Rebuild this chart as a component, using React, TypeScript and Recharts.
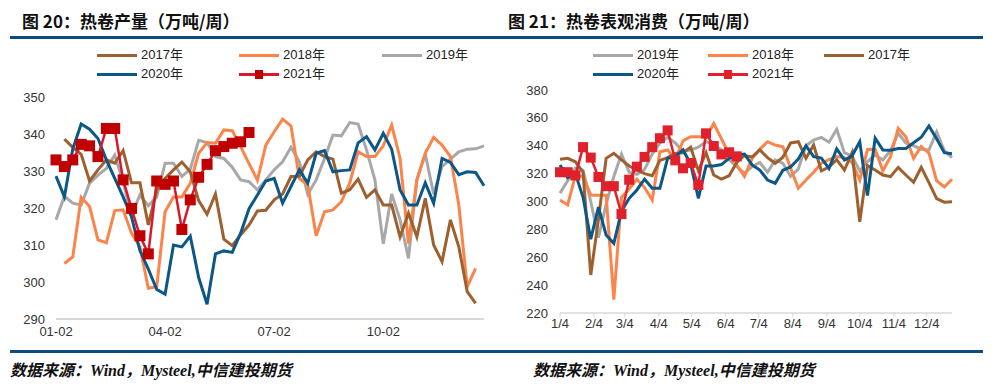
import { LineChart, Line, XAxis, YAxis } from 'recharts'

// 热卷产量 weekly, index 0 = 01-02
const prodTickWeeks = [0, 13, 26, 39]
const prodTickLabels = ['01-02', '04-02', '07-02', '10-02']
const prodTicksY = [290, 300, 310, 320, 330, 340, 350]

const prod2017 = [null, 338.6, 336.4, 334.5, 327.3, 330.3, 333, 332.1, 335.5, 326.8, 326.8, 315.4, 324.9, 328, 330.3, 332.4, 329.8, 322, 318.3, 323.8, 311.6, 309.8, 312.8, 315.4, 319.2, 319.4, 322.2, 323.8, 328.5, 328.6, 333, 335.2, 333.9, 333.2, 324, 324.9, 327.8, 322.9, 324.9, 320.8, 320.8, 312.2, 318.6, 312.2, 322.6, 310, 305.5, 316.8, 309.5, 297.4, 294.2, null]
const prod2018 = [null, 305, 306.8, 322.9, 320.4, 311.4, 310.6, 319.3, 319.5, 313.2, 309.5, 298.3, 298.7, 319, 323, 323, 326.7, 334.8, 337.7, 337.5, 341.1, 340.9, 336.6, 332, 327.5, 337, 340.6, 344, 342.2, 328, 326.2, 312.5, 319, 319.5, 321.7, 326.7, 335.2, 333.9, 333.9, 336.8, 342.4, 333.4, 310.4, 327.6, 334.8, 339.1, 337, 333.9, 320.8, 298.7, 303.7, null]
const prod2019 = [316.8, 323.2, 321.3, 320.8, 326.7, 328.9, 330.7, 334.3, 327, 318, 323.5, 320.6, 323, 332.1, 332.1, 328.5, 330.5, 338.3, 337.7, 333.9, 333.4, 331, 327.6, 327.1, 324.9, 327.6, 330.3, 332.5, 336.4, 332.5, 323.7, 327.6, 333.4, 339.7, 339.5, 343.1, 342.7, 335.7, 327.6, 310.3, 323.8, 316.8, 306.4, 327.6, 334.6, 323.8, 331.2, 333.2, 335.2, 335.9, 336, 336.8]
const prod2020 = [328.6, 323, 336, 342.7, 341.3, 338.8, 333, 328, 323, 317.6, 308.5, 303.5, 298, 296.7, 310, 309.5, 312.4, 301.2, 294, 307.6, 308.4, 308, 313.2, 319.8, 323.5, 327.3, 328, 321.3, 325.8, 330.3, 326.7, 334.8, 335.5, 329.8, 330.1, 330.3, 337.6, 339.3, 335.7, 340.2, 335.9, 324.9, 320.8, 320.8, 326.8, 321.3, 333.4, 332.3, 329, 329.8, 329.6, 326]
const prod2021 = [333, 331.2, 333, 337.2, 336.8, 333.9, 341.5, 341.5, 327.6, 319.9, 312.5, 307.6, 327.3, 326.4, 327.3, 314.2, 322.2, 328.3, 331.8, 335.5, 336.6, 337.5, 337.9, 340.4]

// 热卷表观消费 weekly, index 0 = 1/4; ticks at the 4th of each month (days from 1/4)
const consTickDays = [0, 31, 59, 90, 120, 151, 181, 212, 243, 273, 304, 334]
const consTickLabels = ['1/4', '2/4', '3/4', '4/4', '5/4', '6/4', '7/4', '8/4', '9/4', '10/4', '11/4', '12/4']
const consTicksY = [220, 240, 260, 280, 300, 320, 340, 360, 380]

const cons2017 = [330.3, 331, 328.5, 321, 247.3, 287, 331, 334.6, 329.8, 325.5, 322.6, 320, 318.5, 329.5, 331.5, 334.5, 335, 339, 322, 335, 319, 316, 318.5, 328, 333, 332, 337, 331.5, 327.4, 331.8, 342, 342.9, 331, 340.5, 322, 324.7, 330, 322.6, 335, 285.5, 325.8, 322.6, 319, 317.8, 324.5, 319, 313.8, 324.5, 313.6, 302, 299.5, 299.9]
const cons2018 = [301, 297.5, 318.5, 318, 304.7, 304.5, 304.5, 229.6, 303, 309, 316, 310, 301, 335.7, 337, 329.8, 343.5, 346.5, 346.5, 346, 356, 345, 334, 326, 318, 331, 337.5, 342.9, 340.5, 339.3, 324, 309.5, 315.4, 321, 327.5, 330, 332.2, 331.5, 328, 315.4, 337.3, 337.5, 322, 332.2, 352.5, 346.5, 331, 339.5, 334.8, 315, 310.4, 316]
const cons2019 = [306, 315, 324, 322.5, 300, 274, 298, 318, 334, 321, 319.5, 323, 334, 342, 346, 342, 336, 337, 339, 343, 341, 337, 330, 325, 320.3, 325, 328, 321, 329.8, 327.4, 318, 323.2, 340, 344.1, 346, 342.5, 351.8, 335, 332.5, 322, 328.6, 333.4, 329.8, 336.5, 349, 342, 340, 337.5, 337, 350, 336.5, 331.5]
const cons2020 = [326.2, 317, 320, 303, 273, 296, 276, 270, 293, 302.3, 308.3, 316, 309.5, 309.5, 331, 332.2, 337, 327, 302.3, 325.5, 325.5, 326.5, 331, 333.4, 334, 326.2, 322.6, 315.4, 313.1, 322.4, 324.8, 330.5, 340, 332.2, 331.2, 323.8, 337.8, 329.8, 332.8, 342.9, 304.3, 345.4, 337, 336.8, 338, 338, 342.2, 346.1, 354.2, 345, 335, 334.3]
const cons2021 = [321, 321, 318.7, 339, 331.5, 317.6, 311, 311, 291, 315.6, 325, 332, 339, 345.4, 351, 329.5, 323.8, 327.6, 311.9, 348.9, 339.8, 333.8, 335.3, 332.4]

const C17 = '#9E602F'
const C18 = '#FA8449'
const C19 = '#A8A8A8'
const C20 = '#0B5888'
const RULE = '#0E4D7B'
const AXIS = '#D9D9D9'
const LABEL_FONT = "'Liberation Sans', 'Noto Sans CJK SC', sans-serif"

function buildRows(years: { [k: string]: (number | null)[] }, n: number) {
  const rows: any[] = []
  for (let i = 0; i < n; i++) {
    const row: any = { i }
    Object.keys(years).forEach((k) => {
      const v = years[k][i]
      row[k] = v === undefined ? null : v
    })
    rows.push(row)
  }
  return rows
}

const prodRows = buildRows({ y17: prod2017, y18: prod2018, y19: prod2019, y20: prod2020, y21: prod2021 }, prod2019.length)
const consRows = buildRows({ y17: cons2017, y18: cons2018, y19: cons2019, y20: cons2020, y21: cons2021 }, cons2019.length)

const squareDot = (size: number, color: string) => (p: any) => {
  if (p.cx == null || p.cy == null || p.value == null) return <g key={`d-${p.index}`} />
  return <rect key={`d-${p.index}`} x={p.cx - size / 2} y={p.cy - size / 2} width={size} height={size} fill={color} />
}

function LegendItem({ x, y, color, label, marker }: { x: number; y: number; color: string; label: string; marker?: string }) {
  return (
    <div style={{ position: 'absolute', left: x, top: y - 9, height: 18, display: 'flex', alignItems: 'center' }}>
      <div style={{ position: 'relative', width: 40, height: 3, background: color }}>
        {marker && (
          <div style={{ position: 'absolute', left: 16, top: -3, width: 8, height: 9, background: marker }} />
        )}
      </div>
      <span style={{ marginLeft: 4, fontSize: 13, color: '#222', fontFamily: LABEL_FONT, lineHeight: '18px' }}>{label}</span>
    </div>
  )
}

const titleStyle: any = {
  position: 'absolute',
  top: 9,
  fontSize: 17,
  lineHeight: '24px',
  fontWeight: 'bold',
  color: '#111',
  fontFamily: "'Noto Sans CJK SC', sans-serif",
  whiteSpace: 'nowrap',
}

const sourceStyle: any = {
  position: 'absolute',
  top: 360,
  fontSize: 16,
  lineHeight: '22px',
  fontWeight: 'bold',
  fontStyle: 'italic',
  color: '#111',
  fontFamily: "'Liberation Serif', 'Noto Sans CJK SC', serif",
  whiteSpace: 'nowrap',
}

export default function App() {
  const tick = { fill: '#333', fontSize: 13, fontFamily: LABEL_FONT }
  return (
    <div style={{ position: 'absolute', left: 0, top: 0, width: 999, height: 388, background: '#fff', overflow: 'hidden' }}>
      {/* titles and rules */}
      <div style={{ ...titleStyle, left: 22 }}>图 20：热卷产量（万吨/周）</div>
      <div style={{ ...titleStyle, left: 508 }}>图 21：热卷表观消费（万吨/周）</div>
      <div style={{ position: 'absolute', left: 10, top: 36, width: 973, height: 3, background: RULE }} />
      <div style={{ position: 'absolute', left: 10, top: 350, width: 973, height: 3, background: RULE }} />

      {/* left legend */}
      <LegendItem x={97} y={55} color={C17} label="2017年" />
      <LegendItem x={239} y={55} color={C18} label="2018年" />
      <LegendItem x={382} y={55} color={C19} label="2019年" />
      <LegendItem x={97} y={74} color={C20} label="2020年" />
      <LegendItem x={239} y={74} color="#D9182B" label="2021年" marker="#C00000" />

      {/* right legend */}
      <LegendItem x={593} y={55} color={C19} label="2019年" />
      <LegendItem x={708} y={55} color={C18} label="2018年" />
      <LegendItem x={824} y={55} color={C17} label="2017年" />
      <LegendItem x={593} y={74} color={C20} label="2020年" />
      <LegendItem x={708} y={74} color="#E0202A" label="2021年" marker="#E0202A" />

      {/* 热卷产量 */}
      <div style={{ position: 'absolute', left: 0, top: 80 }}>
        <LineChart width={500} height={270} data={prodRows} margin={{ top: 17, right: 16, bottom: 1, left: 0 }}>
          <XAxis
            dataKey="i"
            type="number"
            domain={[0, prodRows.length - 1]}
            ticks={prodTickWeeks}
            tickFormatter={(v: number) => prodTickLabels[prodTickWeeks.indexOf(v)] ?? ''}
            tick={tick}
            tickLine={false}
            axisLine={{ stroke: AXIS, strokeWidth: 2 }}
            height={30}
            interval={0}
          />
          <YAxis
            domain={[290, 350]}
            ticks={prodTicksY}
            tick={tick}
            tickLine={false}
            axisLine={false}
            tickMargin={5}
            width={56}
            interval={0}
          />
          <Line dataKey="y19" stroke={C19} strokeWidth={3} dot={false} activeDot={false} isAnimationActive={false} />
          <Line dataKey="y18" stroke={C18} strokeWidth={3} dot={false} activeDot={false} isAnimationActive={false} />
          <Line dataKey="y17" stroke={C17} strokeWidth={3} dot={false} activeDot={false} isAnimationActive={false} />
          <Line dataKey="y20" stroke={C20} strokeWidth={3} dot={false} activeDot={false} isAnimationActive={false} />
          <Line dataKey="y21" stroke="#D9182B" strokeWidth={2.5} dot={squareDot(11, '#C00000')} activeDot={false} isAnimationActive={false} />
        </LineChart>
      </div>

      {/* 热卷表观消费 */}
      <div style={{ position: 'absolute', left: 500, top: 70 }}>
        <LineChart width={499} height={280} data={consRows} margin={{ top: 20, right: 47, bottom: 7, left: 0 }}>
          <XAxis
            dataKey="i"
            type="number"
            domain={[0, consRows.length - 1]}
            ticks={consTickDays.map((d) => d / 7)}
            tickFormatter={(v: number) => consTickLabels[consTickDays.indexOf(Math.round(v * 7))] ?? ''}
            tick={tick}
            tickLine={{ stroke: AXIS }}
            tickSize={4}
            axisLine={{ stroke: AXIS, strokeWidth: 1.5 }}
            height={30}
            interval={0}
          />
          <YAxis
            domain={[220, 380]}
            ticks={consTicksY}
            tick={tick}
            tickLine={false}
            axisLine={false}
            tickMargin={6}
            width={60}
            interval={0}
          />
          <Line dataKey="y19" stroke={C19} strokeWidth={3} dot={false} activeDot={false} isAnimationActive={false} />
          <Line dataKey="y18" stroke={C18} strokeWidth={3} dot={false} activeDot={false} isAnimationActive={false} />
          <Line dataKey="y17" stroke={C17} strokeWidth={3} dot={false} activeDot={false} isAnimationActive={false} />
          <Line dataKey="y20" stroke={C20} strokeWidth={3} dot={false} activeDot={false} isAnimationActive={false} />
          <Line dataKey="y21" stroke="#E0202A" strokeWidth={2.5} dot={squareDot(10, '#E0202A')} activeDot={false} isAnimationActive={false} />
        </LineChart>
      </div>

      {/* sources */}
      <div style={{ ...sourceStyle, left: 10 }}>数据来源：Wind，Mysteel,中信建投期货</div>
      <div style={{ ...sourceStyle, left: 533 }}>数据来源：Wind，Mysteel,中信建投期货</div>
    </div>
  )
}
